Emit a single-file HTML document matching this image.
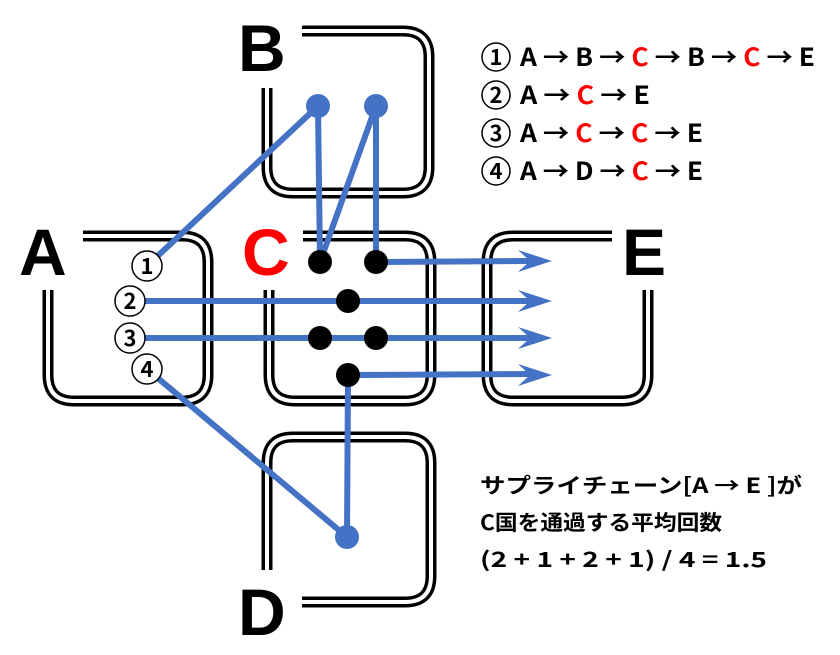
<!DOCTYPE html>
<html><head><meta charset="utf-8"><style>
html,body{margin:0;padding:0;background:#fff;}
svg{display:block;}
.big{font-family:"Liberation Sans",sans-serif;font-weight:bold;font-size:66px;}
.leg{font-family:"Noto Sans CJK JP","Liberation Sans",sans-serif;font-weight:bold;font-size:25px;}
.note{font-family:"Noto Sans CJK JP","Liberation Sans",sans-serif;font-weight:bold;font-size:21px;}
.num{font-family:"Noto Sans CJK JP","Liberation Sans",sans-serif;font-weight:bold;font-size:22px;}
</style></head><body>
<svg width="840" height="655" viewBox="0 0 840 655" xmlns="http://www.w3.org/2000/svg">
<defs>
<g id="boxes">
<path d="M302,31 H403 Q429,31 429,57 V167 Q429,193 403,193 H293 Q267,193 267,167 V88"/>
<path d="M83,236 H182 Q208,236 208,262 V375 Q208,401 182,401 H74 Q48,401 48,375 V290"/>
<path d="M303,236 H405 Q431,236 431,262 V375 Q431,401 405,401 H295 Q269,401 269,375 V290"/>
<path d="M612,236 H513 Q487,236 487,262 V375 Q487,401 513,401 H622 Q648,401 648,375 V290"/>
<path d="M267,570 V463 Q267,437 293,437 H405 Q431,437 431,463 V576 Q431,602 405,602 H302"/>
</g>
<path id="ah" d="M0,0 L-34,-11 L-22,0 L-34,11 Z" fill="#4472c4"/>
</defs>
<use href="#boxes" fill="none" stroke="#000" stroke-width="11"/>
<use href="#boxes" fill="none" stroke="#fff" stroke-width="4"/>

<text class="big" x="19" y="275">A</text>
<text class="big" x="238" y="71">B</text>
<text class="big" x="242" y="275" fill="#f00">C</text>
<text class="big" x="622" y="275">E</text>
<text class="big" x="238" y="635">D</text>

<g stroke="#4472c4" stroke-width="6" fill="none">
<line x1="147" y1="266" x2="318" y2="106"/>
<line x1="318" y1="106" x2="320" y2="262"/>
<line x1="376" y1="106" x2="320" y2="262"/>
<line x1="376" y1="106" x2="376" y2="262"/>
<line x1="376" y1="262" x2="530" y2="261"/>
<line x1="132" y1="301" x2="530" y2="301"/>
<line x1="132" y1="338" x2="530" y2="338"/>
<line x1="348" y1="375" x2="530" y2="374"/>
<line x1="348" y1="375" x2="347" y2="537"/>
<line x1="147" y1="369" x2="347" y2="537"/>
</g>
<use href="#ah" x="552" y="261"/>
<use href="#ah" x="552" y="301"/>
<use href="#ah" x="552" y="338"/>
<use href="#ah" x="552" y="375"/>
<g fill="#4472c4">
<circle cx="318" cy="106" r="12"/><circle cx="376" cy="106" r="12"/><circle cx="347" cy="537" r="12"/>
</g>
<g fill="#000">
<circle cx="320" cy="262" r="12"/><circle cx="376" cy="262" r="12"/>
<circle cx="348" cy="301" r="12"/>
<circle cx="320" cy="338" r="12"/><circle cx="376" cy="338" r="12"/>
<circle cx="348" cy="375" r="12"/>
</g>
<g fill="#fff" stroke="#000" stroke-width="1.5">
<circle cx="147" cy="266" r="15"/><circle cx="130" cy="301" r="15"/>
<circle cx="130" cy="338" r="15"/><circle cx="147" cy="369" r="15"/>
</g>
<g class="num" text-anchor="middle">
<text x="147" y="274">1</text><text x="130" y="309">2</text>
<text x="130" y="346">3</text><text x="147" y="377">4</text>
</g>

<g fill="#fff" stroke="#000" stroke-width="1.5">
<circle cx="496" cy="57" r="14"/><circle cx="496" cy="95" r="14"/>
<circle cx="496" cy="133" r="14"/><circle cx="496" cy="171" r="14"/>
</g>
<g class="num" text-anchor="middle" font-size="23">
<text x="496" y="65">1</text><text x="496" y="103">2</text>
<text x="496" y="141">3</text><text x="496" y="179">4</text>
</g>
<g class="leg">
<text x="520" y="66" textLength="295" lengthAdjust="spacingAndGlyphs">A → B → <tspan fill="#f00">C</tspan> → B → <tspan fill="#f00">C</tspan> → E</text>
<text x="520" y="104" textLength="130" lengthAdjust="spacingAndGlyphs">A → <tspan fill="#f00">C</tspan> → E</text>
<text x="520" y="142" textLength="183" lengthAdjust="spacingAndGlyphs">A → <tspan fill="#f00">C</tspan> → <tspan fill="#f00">C</tspan> → E</text>
<text x="520" y="180" textLength="183" lengthAdjust="spacingAndGlyphs">A → D → <tspan fill="#f00">C</tspan> → E</text>
</g>
<g class="note">
<text x="480" y="493" textLength="322" lengthAdjust="spacingAndGlyphs">サプライチェーン[A → E ]が</text>
<text x="480" y="530" textLength="242" lengthAdjust="spacingAndGlyphs">C国を通過する平均回数</text>
<text x="480" y="567" textLength="287" lengthAdjust="spacingAndGlyphs">(2 + 1 + 2 + 1) / 4 = 1.5</text>
</g>
</svg>
</body></html>
